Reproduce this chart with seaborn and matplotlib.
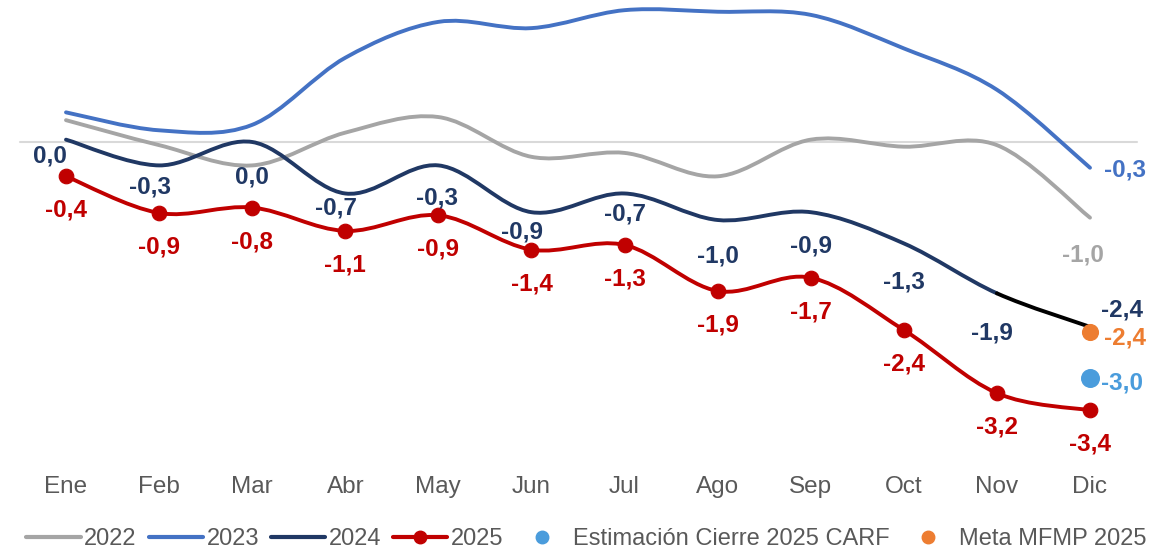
import numpy as np
import matplotlib
matplotlib.use("Agg")
import matplotlib.pyplot as plt
import seaborn as sns
import pandas as pd
from matplotlib.path import Path
from matplotlib.patches import PathPatch
from matplotlib.lines import Line2D

# data
meses = ['Ene', 'Feb', 'Mar', 'Abr', 'May', 'Jun', 'Jul', 'Ago', 'Sep', 'Oct', 'Nov', 'Dic']
v2022 = [0.28, -0.04, -0.30, 0.12, 0.32, -0.19, -0.14, -0.44, 0.03, -0.06, -0.04, -0.97]
v2023 = [0.38, 0.15, 0.22, 1.08, 1.54, 1.46, 1.69, 1.67, 1.63, 1.20, 0.67, -0.33]
v2024 = [0.03, -0.30, 0.0, -0.66, -0.30, -0.90, -0.66, -1.00, -0.90, -1.30, -1.94, -2.37]
v2025 = [-0.44, -0.91, -0.84, -1.14, -0.94, -1.38, -1.32, -1.91, -1.74, -2.41, -3.22, -3.44]
cierre_carf = -3.03
meta_mfmp = -2.44

# label offsets for 2024 (pixels, dx, dy downward)
off2024 = [(-16, 16), (-9, 22), (0, 35), (-9, 15), (-1, 33), (-9, 20),
           (0, 21), (0, 36), (0, 34), (0, 39), (-5, 40), (32, -17)]

c22, c23, c24, c25 = '#A5A5A5', '#4472C4', '#203864', '#C00000'
c_carf, c_meta = '#4A9CDC', '#ED7D31'

sns.set_theme(style='white')
plt.rcParams['font.family'] = ['Liberation Sans', 'DejaVu Sans']

fig = plt.figure(figsize=(11.73, 5.49), dpi=100)
ax = fig.add_axes([0, 1 - 470 / 549, 1, 470 / 549])
ax.set_xlim(-66 / 93.09, (1173 - 66) / 93.09)
ax.set_ylim(-(470 - 142) / 78, 142 / 78)
ax.axis('off')
ax.axhline(0, xmin=20 / 1173, xmax=1137 / 1173, color='#D9D9D9', lw=1.5, zorder=1)

x = np.arange(len(meses))


def smooth_path(xs, ys, start, end):
    # Catmull-Rom style bezier segments like Excel smoothing
    pts = np.column_stack([xs, ys]).astype(float)
    n = len(pts)
    verts = [pts[start]]
    codes = [Path.MOVETO]
    for i in range(start, end):
        p0 = pts[i - 1] if i > 0 else pts[i]
        p1 = pts[i]
        p2 = pts[i + 1]
        p3 = pts[i + 2] if i + 2 < n else pts[i + 1]
        c1 = p1 + (p2 - p0) / 6
        c2 = p2 - (p3 - p1) / 6
        verts += [c1, c2, p2]
        codes += [Path.CURVE4] * 3
    return Path(verts, codes)


def draw(ys, color, start=0, end=11, z=2):
    ax.add_patch(PathPatch(smooth_path(x, ys, start, end), fill=False,
                           edgecolor=color, lw=2.8, capstyle='round', zorder=z))


draw(v2022, c22)
draw(v2023, c23)
draw(v2024, c24, 0, 10)
draw(v2024, 'black', 10, 11)
draw(v2025, c25, z=3)

df25 = pd.DataFrame({'x': x, 'y': v2025})
sns.scatterplot(data=df25, x='x', y='y', color=c25, s=110, edgecolor=c25, ax=ax, zorder=4, legend=False)
sns.scatterplot(x=[11], y=[cierre_carf], color=c_carf, s=160, edgecolor=c_carf, ax=ax, zorder=4, legend=False)
sns.scatterplot(x=[11], y=[meta_mfmp], color=c_meta, s=130, edgecolor=c_meta, ax=ax, zorder=4, legend=False)

px = 72 / 100


def fmt(v):
    return f'{v:.1f}'.replace('.', ',')


def lab(xi, yi, txt, color, dx, dy, ha='center'):
    ax.annotate(txt, (xi, yi), xytext=(dx * px, -dy * px), textcoords='offset points',
                ha=ha, va='center', fontsize=17.5, fontweight='bold', color=color, zorder=5)


for i in range(12):
    lab(i, v2025[i], fmt(v2025[i]), c25, 0, 34)
    lab(i, v2024[i], fmt(v2024[i]), c24, off2024[i][0], off2024[i][1])

lab(11, v2022[11], fmt(v2022[11]), c22, -7, 37)
lab(11, v2023[11], fmt(v2023[11]), c23, 35, 2)
lab(11, meta_mfmp, fmt(meta_mfmp), c_meta, 35, 6)
lab(11, cierre_carf, fmt(cierre_carf), c_carf, 32, 5)

for i, m in enumerate(meses):
    ax.text(i, -(487 - 142) / 78, m, ha='center', va='center', fontsize=17.5, color='#595959',
            clip_on=False)

handles = [
    Line2D([], [], color=c22, lw=3),
    Line2D([], [], color=c23, lw=3),
    Line2D([], [], color=c24, lw=3),
    Line2D([], [], color=c25, lw=3, marker='o', markersize=9),
    Line2D([], [], color=c_carf, lw=0, marker='o', markersize=9),
    Line2D([], [], color=c_meta, lw=0, marker='o', markersize=9),
]
labels = ['2022', '2023', '2024', '2025', 'Estimación Cierre 2025 CARF', 'Meta MFMP 2025']
leg = fig.legend(handles, labels, loc='center', bbox_to_anchor=(0.5, 1 - 539 / 549), ncol=6,
                 frameon=False, fontsize=17, handlelength=2.3, handletextpad=0.15,
                 columnspacing=0.5, labelcolor='#595959')

fig.savefig('out.png', dpi=100)
